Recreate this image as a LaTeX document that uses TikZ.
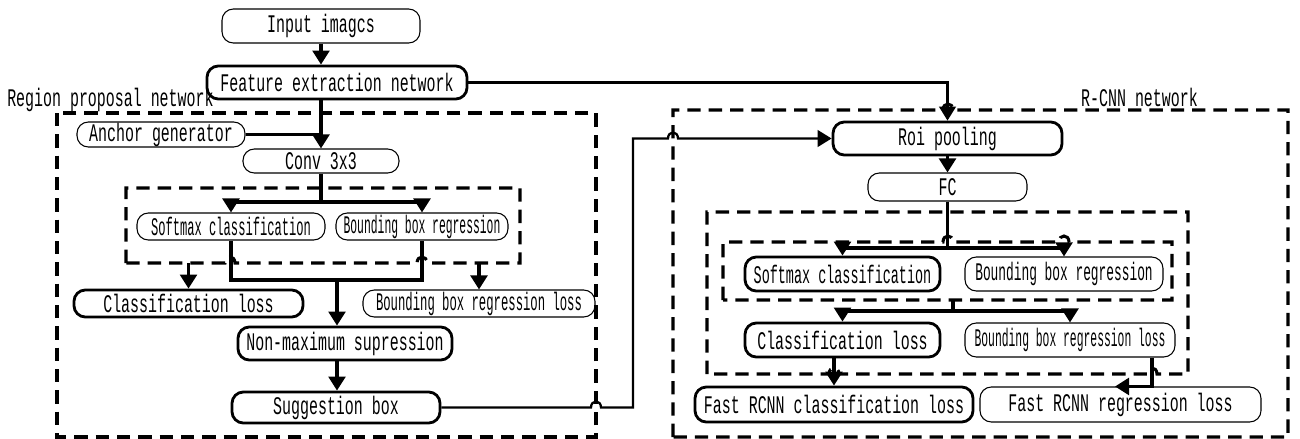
\documentclass[tikz,border=0pt]{standalone}
\usepackage{fontspec}
\usepackage{graphicx}
\usetikzlibrary{arrows.meta,calc}
\newfontfamily\dfont[FakeStretch=0.59]{Liberation Mono}
\newcommand{\sq}[2]{\scalebox{#1}[1]{#2}}
\newcommand{\bx}[7]{\node[#6, minimum width={#4*0.75pt}, minimum height={#5*0.75pt}] (#1) at (#2,#3) {#7};}
\begin{document}
\begin{tikzpicture}[x=0.75pt,y=-0.75pt,
  box/.style={draw, rounded corners=8.5pt, inner sep=0pt, font=\dfont\fontsize{19}{21}\selectfont, text=black},
  thinb/.style={box, line width=0.8pt},
  thickb/.style={box, line width=2.1pt},
  tip/.style={-{Triangle[length=10.5pt,width=12.5pt]}},
  conn/.style={line width=2.5pt, tip},
  link/.style={line width=2.5pt},
  slink/.style={line width=1.7pt},
  dbox/.style={line width=2.3pt, dash pattern=on 10pt off 6pt},
  lbl/.style={font=\dfont\fontsize{19}{21}\selectfont, inner sep=0pt}]
\fill[white] (0,0) rectangle (1300,439);
\useasboundingbox (0,0) rectangle (1300,439);

% dashed frames
\draw[dbox] (57,113) rectangle (596,437);
\draw[dbox] (126,263) -- (126,188) -- (520,188) -- (520,263) -- (427,263)
  .. controls (427,255) and (417,255) .. (417,263) -- (235,263)
  .. controls (235,255) and (225,255) .. (225,263) -- cycle;
\draw[dbox] (673,437) -- (673,110) -- (943,110)
  .. controls (943,102) and (953,102) .. (953,110) -- (1288,110) -- (1288,437) -- cycle;
\draw[dbox] (707,374) -- (707,212) -- (1188,212) -- (1188,374) -- (1157,374)
  .. controls (1157,366) and (1147,366) .. (1147,374) -- (839,374)
  .. controls (839,366) and (829,366) .. (829,374) -- cycle;
\draw[dbox] (723,300) -- (723,242) -- (943,242)
  .. controls (943,234) and (953,234) .. (953,242) -- (1059,242)
  .. controls (1059,234) and (1069,234) .. (1069,242) -- (1172,242) -- (1172,300) -- cycle;

% labels
\node[lbl, anchor=west] (rpnlbl) at (7,100) {Region proposal network};
\node[lbl] (rcnnlbl) at (1139.5,97) {R-CNN network};

% nodes
\bx{inp}{321}{26}{198}{34}{thinb}{Input imagcs}
\bx{fen}{337}{82.5}{260}{33}{thickb}{Feature extraction network}
\bx{anc}{161}{134.5}{168}{25}{thinb}{Anchor generator}
\bx{conv}{321}{161}{156}{24}{thinb}{Conv 3x3}
\bx{smL}{231}{226.5}{188}{27}{thinb}{\sq{0.81}{Softmax classification}}
\bx{bbL}{422}{226.5}{172}{27}{thinb}{\sq{0.76}{Bounding box regression}}
\bx{clL}{188.5}{303.5}{229}{27}{thickb}{Classification loss}
\bx{bblL}{479}{303.5}{232}{27}{thinb}{\sq{0.82}{Bounding box regression loss}}
\bx{nms}{345}{343.5}{214}{33}{thickb}{Non-maximum supression}
\bx{sug}{336}{407.5}{208}{31}{thickb}{Suggestion box}
\bx{roi}{947.5}{138.5}{229}{33}{thickb}{Roi pooling}
\bx{fc}{947.5}{187}{159}{28}{thinb}{FC}
\bx{smR}{842.5}{274}{195}{34}{thickb}{\sq{0.9}{Softmax classification}}
\bx{bbR}{1064}{274}{198}{34}{thinb}{\sq{0.86}{Bounding box regression}}
\bx{clR}{842.5}{340}{195}{34}{thickb}{Classification loss}
\bx{bblR}{1070}{340}{210}{34}{thinb}{\sq{0.76}{Bounding box regression loss}}
\bx{fcl}{834}{404.5}{278}{35}{thickb}{Fast RCNN classification loss}
\bx{frl}{1120.5}{404.5}{281}{35}{thinb}{Fast RCNN regression loss}

% helper coordinates
\coordinate (br1) at (321,202);
\coordinate (j1) at (337,280);
\coordinate (LinB) at (0,263);
\coordinate (t1) at (633,0);
\coordinate (br2) at (0,248);
\coordinate (br3) at (953,311);
\coordinate (RinB) at (0,300);
\coordinate (t2) at (1152,0);
\coordinate (t3) at (1115,0);

% connectors: RPN
\draw[conn] (inp.south) -- (inp.south |- fen.north);
\draw[conn] (conv.north |- fen.south) -- (conv.north);
\draw[slink] (anc.east) -- (anc.east -| conv.north);
\draw[link] (conv.south) -- (br1);
\draw[link] (br1 -| smL.north) -- (br1 -| bbL.north);
\draw[conn] (br1 -| smL.north) -- (smL.north);
\draw[conn] (br1 -| bbL.north) -- (bbL.north);
\draw[link] (smL.south) -- (smL.south |- j1) -- (bbL.south |- j1) -- (bbL.south);
\draw[conn] (j1) -- (j1 |- nms.north);
\draw[conn] (clL.north |- LinB) -- (clL.north);
\draw[conn] (bblL.north |- LinB) -- (bblL.north);
\draw[conn] (j1 |- nms.south) -- (j1 |- sug.north);

% connectors between the two parts
\draw[slink, tip] (sug.east) -- (591,407.5)
  .. controls (591,399.5) and (601,399.5) .. (601,407.5) -- (sug.east -| t1)
  -- (t1 |- roi.west) -- (668,138.5)
  .. controls (668,130.5) and (678,130.5) .. (678,138.5) -- (roi.west);
\draw[slink, tip] (fen.east) -- (fen.east -| roi.north) -- (roi.north);

% connectors: R-CNN
\draw[conn] (roi.south) -- (fc.north);
\draw[link] (fc.south) -- (fc.south |- br2);
\draw[link] (br2 -| smR.north) -- (br2 -| bbR.north);
\draw[conn] (br2 -| smR.north) -- (smR.north);
\draw[conn] (br2 -| bbR.north) -- (bbR.north);
\draw[link] (br3 |- RinB) -- (br3);
\draw[link] (br3 -| clR.north) -- (br3 -| bblR.north);
\draw[conn] (br3 -| clR.north) -- (clR.north);
\draw[conn] (br3 -| bblR.north) -- (bblR.north);
\draw[conn] (fcl.north |- clR.south) -- (fcl.north);
\draw[link, tip] (bblR.south -| t2) -- (t2 |- frl.north) -- (t3 |- frl.north);
\end{tikzpicture}
\end{document}
